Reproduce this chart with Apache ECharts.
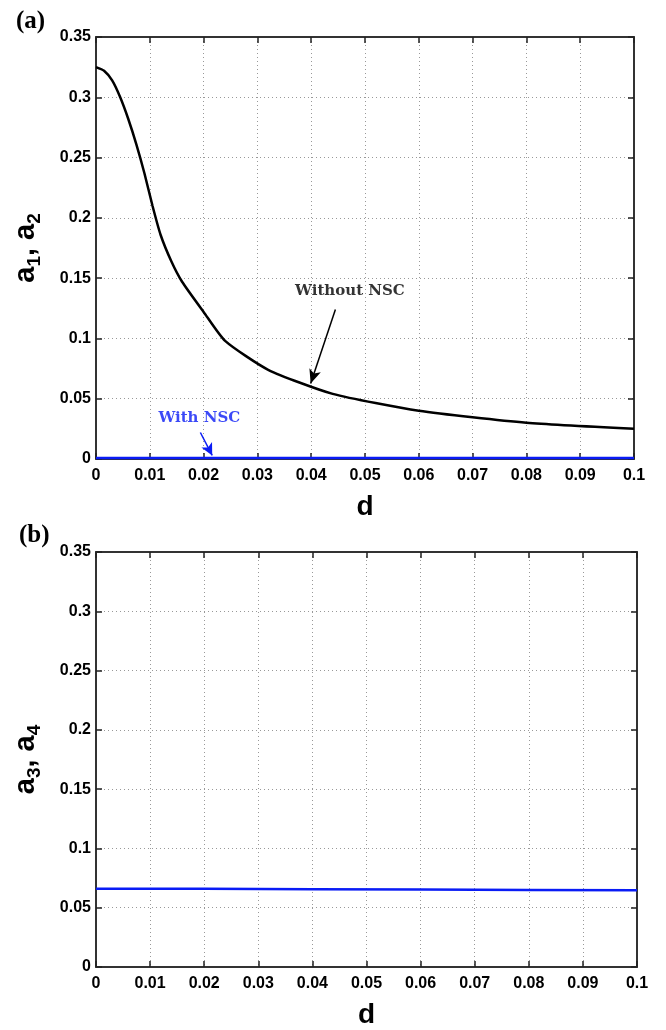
<!DOCTYPE html>
<html>
<head>
<meta charset="utf-8">
<script src="https://cdn.jsdelivr.net/npm/echarts@6/dist/echarts.min.js"></script>
<style>
  html, body { margin: 0; padding: 0; background: #fff; }
  #chart { width: 666px; height: 1030px; }
</style>
</head>
<body>
<div id="chart"></div>
<script>
// Axis ranges and tick values
const dTicks = [0, 0.01, 0.02, 0.03, 0.04, 0.05, 0.06, 0.07, 0.08, 0.09, 0.1];
const aTicks = [0, 0.05, 0.1, 0.15, 0.2, 0.25, 0.3, 0.35];

// Panel (a): amplitudes a1, a2 versus d
const dWithout = [0, 0.0015, 0.003, 0.0045, 0.006, 0.0075, 0.009, 0.0105, 0.012, 0.014, 0.016, 0.02, 0.024, 0.032, 0.044, 0.06, 0.08, 0.1];
const aWithout = [0.325, 0.322, 0.314, 0.3, 0.282, 0.261, 0.237, 0.21, 0.186, 0.164, 0.147, 0.122, 0.098, 0.074, 0.054, 0.04, 0.03, 0.025];
const dWith = [0, 0.02, 0.04, 0.06, 0.08, 0.1];
const aWith = [0.0008, 0.0008, 0.0008, 0.0008, 0.0008, 0.0008];

// Panel (b): amplitudes a3, a4 versus d
const dB = [0, 0.02, 0.04, 0.06, 0.08, 0.1];
const aB = [0.066, 0.0659, 0.0656, 0.0653, 0.065, 0.0648];

// Annotation anchors (data coordinates)
const labelWithout = [0.0472, 0.139, 'Without NSC'];
const arrowWithout = [[0.0445, 0.124], [0.0399, 0.0626]];
const labelWith = [0.0192, 0.0336, 'With NSC'];
const arrowWith = [[0.0194, 0.022], [0.0216, 0.003]];

const pair = (xs, ys) => xs.map((x, i) => [x, ys[i]]);

const sansBold = 'Liberation Sans, Arial, sans-serif';
const tickFont = { fontFamily: sansBold, fontWeight: 'bold', fontSize: 16, color: '#000' };
const axisLineStyle = { color: '#333', width: 2 };
const tickStyle = { show: true, inside: true, length: 6, lineStyle: { color: '#222', width: 1.5 } };
const gridLine = { show: true, lineStyle: { type: [1, 3], color: '#999', width: 1 } };

function xAxes(gridIndex) {
  return [
    {
      gridIndex, type: 'value', min: 0, max: 0.1, interval: 0.01, position: 'bottom',
      axisLine: { show: true, onZero: false, lineStyle: axisLineStyle },
      axisTick: tickStyle,
      axisLabel: Object.assign({ margin: 9, formatter: v => String(+v.toFixed(2)) }, tickFont),
      splitLine: gridLine,
      name: 'd', nameLocation: 'middle', nameGap: 34,
      nameTextStyle: { fontFamily: sansBold, fontWeight: 'bold', fontSize: 28, color: '#000' }
    },
    {
      gridIndex, type: 'value', min: 0, max: 0.1, interval: 0.01, position: 'top',
      axisLine: { show: true, onZero: false, lineStyle: axisLineStyle },
      axisTick: tickStyle, axisLabel: { show: false }, splitLine: { show: false }
    }
  ];
}

function yAxes(gridIndex, nameRich) {
  return [
    {
      gridIndex, type: 'value', min: 0, max: 0.35, interval: 0.05, position: 'left',
      axisLine: { show: true, onZero: false, lineStyle: axisLineStyle },
      axisTick: tickStyle,
      axisLabel: Object.assign({ margin: 5, formatter: v => String(+v.toFixed(2)) }, tickFont),
      splitLine: gridLine,
      name: nameRich, nameLocation: 'middle', nameGap: 52, nameRotate: 90,
      nameTextStyle: {
        rich: {
          m: { fontFamily: sansBold, fontWeight: 'bold', fontSize: 29, color: '#000', lineHeight: 36, verticalAlign: 'middle' },
          s: { fontFamily: sansBold, fontWeight: 'bold', fontSize: 19, color: '#000', lineHeight: 36, padding: [17, 0, 0, 0] }
        }
      }
    },
    {
      gridIndex, type: 'value', min: 0, max: 0.35, interval: 0.05, position: 'right',
      axisLine: { show: true, onZero: false, lineStyle: axisLineStyle },
      axisTick: tickStyle, axisLabel: { show: false }, splitLine: { show: false }
    }
  ];
}

const annoFont = { fontFamily: 'DejaVu Serif, serif', fontWeight: 'bold', fontSize: 15 };

const chart = echarts.init(document.getElementById('chart'), null, { renderer: 'canvas' });
chart.setOption({
  animation: false,
  backgroundColor: '#fff',
  title: [
    { text: '(a)', left: 11, top: 4, textStyle: { fontFamily: 'Liberation Serif, Times New Roman, serif', fontWeight: 'bold', fontSize: 25, color: '#000' } },
    { text: '(b)', left: 14, top: 518, textStyle: { fontFamily: 'Liberation Serif, Times New Roman, serif', fontWeight: 'bold', fontSize: 25, color: '#000' } }
  ],
  grid: [
    { left: 92, top: 37, width: 542, height: 422 },
    { left: 94, top: 552, width: 543, height: 427 }
  ],
  xAxis: [...xAxes(0), ...xAxes(1)],
  yAxis: [...yAxes(0, '{m|a}{s|1}{m|, a}{s|2}'), ...yAxes(1, '{m|a}{s|3}{m|, a}{s|4}')],
  series: [
    {
      type: 'line', xAxisIndex: 0, yAxisIndex: 0, data: pair(dWithout, aWithout),
      showSymbol: false, smooth: 0.2, lineStyle: { color: '#000', width: 2.5 }, z: 3,
      markLine: {
        silent: true, symbol: ['none', 'arrow'], symbolSize: [9, 14],
        lineStyle: { color: '#000', width: 1.5, type: 'solid' }, label: { show: false },
        data: [[{ coord: arrowWithout[0] }, { coord: arrowWithout[1] }]]
      }
    },
    {
      type: 'line', xAxisIndex: 0, yAxisIndex: 0, data: pair(dWith, aWith),
      showSymbol: false, lineStyle: { color: '#0a1cf5', width: 2.5 }, z: 4,
      markLine: {
        silent: true, symbol: ['none', 'arrow'], symbolSize: [9, 12],
        lineStyle: { color: '#0a1cf5', width: 1.5, type: 'solid' }, label: { show: false },
        data: [[{ coord: arrowWith[0] }, { coord: arrowWith[1] }]]
      }
    },
    {
      type: 'scatter', xAxisIndex: 0, yAxisIndex: 0, symbolSize: 1,
      itemStyle: { color: 'transparent' }, data: [labelWithout],
      label: Object.assign({ show: true, position: 'inside', formatter: p => p.data[2], color: '#000' }, annoFont)
    },
    {
      type: 'scatter', xAxisIndex: 0, yAxisIndex: 0, symbolSize: 1,
      itemStyle: { color: 'transparent' }, data: [labelWith],
      label: Object.assign({ show: true, position: 'inside', formatter: p => p.data[2], color: '#0a1cf5' }, annoFont)
    },
    {
      type: 'line', xAxisIndex: 2, yAxisIndex: 2, data: pair(dB, aB),
      showSymbol: false, lineStyle: { color: '#0a1cf5', width: 2.5 }, z: 3
    }
  ]
});
</script>
</body>
</html>
